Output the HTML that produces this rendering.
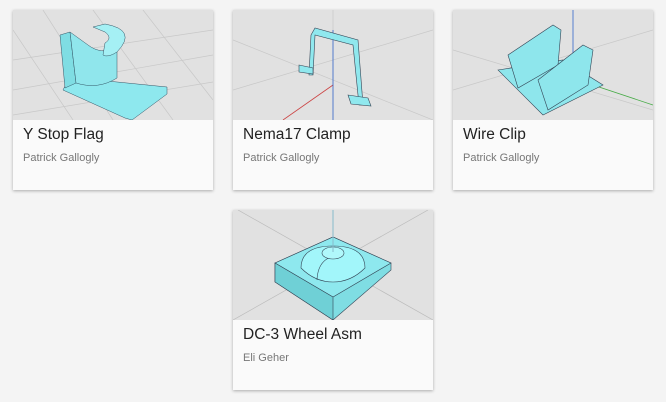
<!DOCTYPE html>
<html><head><style>
body{margin:0;width:666px;height:402px;background:#f4f4f4;font-family:"Liberation Sans",sans-serif;position:relative;overflow:hidden}
.card{position:absolute;width:200px;height:180px;background:#fafafa;box-shadow:0 1px 3px rgba(0,0,0,.3)}
.card svg{display:block;width:200px;height:110px;background:#e1e1e1}
.t{position:absolute;left:10px;top:116px;font-size:15.5px;color:#222}
.a{position:absolute;left:10px;top:142px;font-size:11px;color:#777}
</style></head><body>
<div class="card" style="left:13px;top:10px">
<svg viewBox="0 0 200 110"><g stroke="#c8c8c8" stroke-width="0.7" fill="none">
<path d="M0 50L200 20M0 80L200 45M0 105L200 72M30 0L100 110M80 0L160 110M130 0L200 90M0 20L60 110"/></g>
<path d="M55 70L64 68L154 77L154 84L119 110L112 108L50 80Z" fill="#8ee8ee" stroke="#356" stroke-width=".5"/>
<path d="M47 25L57 22L63 73L52 78Z" fill="#7fdde3" stroke="#356" stroke-width=".5"/>
<path d="M57 22L75 35Q88 45 104 38L104 68Q85 80 63 73Z" fill="#90e6ec" stroke="#356" stroke-width=".5"/>
<path d="M80 17L92 14Q125 20 104 42Q95 48 90 45L92 33Q100 28 92 22Z" fill="#a5f0f4" stroke="#356" stroke-width=".5"/>
</svg>
<div class="t">Y Stop Flag</div><div class="a">Patrick Gallogly</div></div>
<div class="card" style="left:233px;top:10px">
<svg viewBox="0 0 200 110"><g stroke="#c8c8c8" stroke-width="0.7" fill="none">
<path d="M0 30L200 110M0 80L200 20M100 0L100 110"/></g>
<line x1="100" y1="75" x2="50" y2="110" stroke="#c44" stroke-width=".8"/>
<line x1="100" y1="20" x2="100" y2="110" stroke="#36c" stroke-width=".8"/>
<g fill="#90e8ee" stroke="#345" stroke-width=".6">
<path d="M78 25L82 18L125 30L130 95L126 95L120 35L82 25L80 65L76 65Z"/>
<path d="M115 85L135 88L138 96L118 94Z"/><path d="M66 55L80 58L80 64L66 62Z"/></g>
</svg>
<div class="t">Nema17 Clamp</div><div class="a">Patrick Gallogly</div></div>
<div class="card" style="left:453px;top:10px">
<svg viewBox="0 0 200 110"><g stroke="#c8c8c8" stroke-width="0.7" fill="none">
<path d="M0 40L200 100M0 80L200 20"/></g>
<line x1="120" y1="0" x2="120" y2="60" stroke="#36c" stroke-width=".8"/>
<line x1="140" y1="75" x2="200" y2="95" stroke="#4a4" stroke-width=".8"/>
<g fill="#8ee6ec" stroke="#345" stroke-width=".6">
<path d="M45 60L110 50L150 75L90 105Z"/>
<path d="M55 45L100 15L108 20L105 55L65 78Z"/>
<path d="M85 70L130 35L140 40L135 75L95 100Z"/></g>
</svg>
<div class="t">Wire Clip</div><div class="a">Patrick Gallogly</div></div>
<div class="card" style="left:233px;top:210px">
<svg viewBox="0 0 200 110"><g stroke="#bbb" stroke-width="0.7" fill="none">
<path d="M5 0L200 110M195 0L0 110"/></g>
<g stroke="#345" stroke-width=".6">
<path d="M42 53L100 27L158 53L158 60L100 110L42 72Z" fill="#7fdde3"/>
<path d="M42 53L100 27L158 53L100 87Z" fill="#8ee8ee"/>
<path d="M42 53L100 87L100 110L42 72Z" fill="#6fd0d6"/>
<path d="M68 58Q68 36 100 36Q132 36 132 58Q118 72 100 72Q82 72 68 58Z" fill="#a2f6fa"/>
<path d="M110 45Q85 45 84 70" fill="none"/>
<ellipse cx="100" cy="43" rx="11" ry="6" fill="#b0f8fb"/></g>
<line x1="100" y1="0" x2="100" y2="42" stroke="#8bc" stroke-width="1"/>
</svg>
<div class="t">DC-3 Wheel Asm</div><div class="a">Eli Geher</div></div>
</body></html>
